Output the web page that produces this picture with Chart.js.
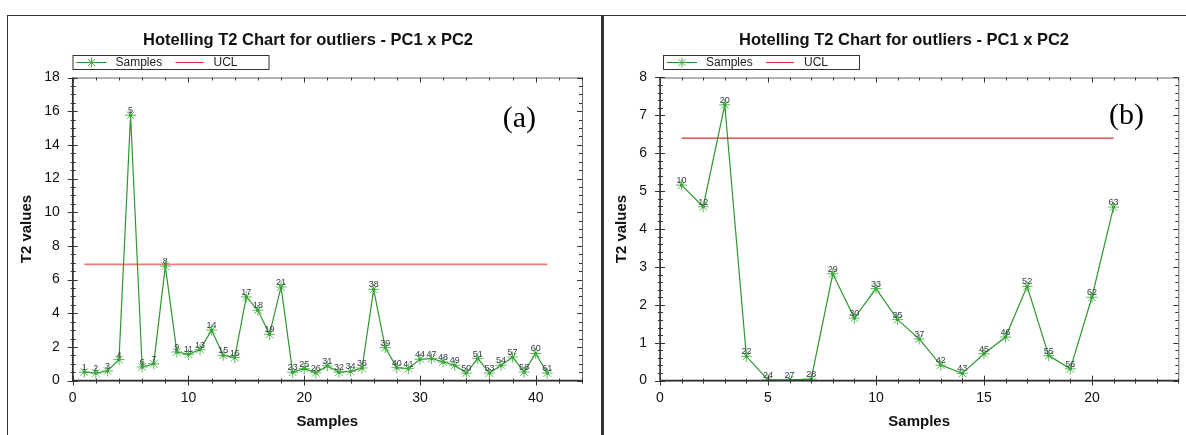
<!DOCTYPE html>
<html>
<head>
<meta charset="utf-8">
<script src="https://cdn.jsdelivr.net/npm/chart.js@4.4.0/dist/chart.umd.min.js"></script>
<style>
html, body { margin: 0; padding: 0; background: #fff; }
body { width: 1186px; height: 435px; position: relative; overflow: hidden; }
#frameTop { position: absolute; left: 7px; top: 15px; width: 1179px; height: 1px; background: #333; }
#frameLeft { position: absolute; left: 7px; top: 15px; width: 1px; height: 420px; background: #333; }
#divider { position: absolute; left: 601px; top: 15px; width: 3px; height: 420px; background: #333; }
canvas { position: absolute; top: 16px; }
#chartA { left: 8px; }
#chartB { left: 604px; }
</style>
</head>
<body>
<div id="frameTop"></div>
<div id="frameLeft"></div>
<div id="divider"></div>
<canvas id="chartA" width="593" height="419"></canvas>
<canvas id="chartB" width="582" height="419"></canvas>
<script>
// (a) sample ids and T2 values
const idsA = [1, 2, 3, 4, 5, 6, 7, 8, 9, 11, 13, 14, 15, 16, 17, 18, 19, 21, 23, 25, 26,
              31, 32, 34, 36, 38, 39, 40, 41, 44, 47, 48, 49, 50, 51, 53, 54, 57, 58, 60, 61];
const t2A = [0.51, 0.45, 0.57, 1.25, 15.76, 0.81, 1.0, 6.8, 1.7, 1.56, 1.84, 3.0, 1.5, 1.37, 4.97, 4.18, 2.75, 5.56, 0.5, 0.71, 0.46,
             0.87, 0.5, 0.55, 0.75, 5.42, 1.96, 0.77, 0.71, 1.27, 1.31, 1.11, 0.91, 0.45, 1.31, 0.45, 0.91, 1.4, 0.51, 1.61, 0.45];
const uclA = 6.9;

// (b)
const idsB = [10, 12, 20, 22, 24, 27, 28, 29, 30, 33, 35, 37, 42, 43, 45, 46, 52, 55, 56, 62, 63];
const t2B = [5.16, 4.59, 7.28, 0.64, 0.02, 0.02, 0.04, 2.82, 1.65, 2.43, 1.61, 1.1, 0.41, 0.19, 0.71, 1.15, 2.49, 0.66, 0.31, 2.2, 4.58];
const uclB = 6.4;

const chartTitle = 'Hotelling T2 Chart for outliers - PC1 x PC2';
const FONT = '"Liberation Sans", Arial, sans-serif';

function drawStar(ctx, x, y, r) {
    const d = r * Math.SQRT1_2;
    ctx.beginPath();
    ctx.moveTo(x - r, y); ctx.lineTo(x + r, y);
    ctx.moveTo(x, y - r); ctx.lineTo(x, y + r);
    ctx.moveTo(x - d, y - d); ctx.lineTo(x + d, y + d);
    ctx.moveTo(x - d, y + d); ctx.lineTo(x + d, y - d);
    ctx.stroke();
}

// frame, tick marks, title, legend, tag
const decor = {
    id: 'decor',
    afterDraw(chart, args, o) {
        const { ctx, chartArea: a, scales: { x, y } } = chart;
        ctx.save();

        ctx.strokeStyle = '#666';
        ctx.lineWidth = 1;
        ctx.strokeRect(a.left + 0.5, a.top + 0.5, a.right - a.left, a.bottom - a.top);
        ctx.strokeStyle = '#333';
        ctx.lineWidth = 1.5;
        ctx.beginPath();
        ctx.moveTo(a.left, a.top);
        ctx.lineTo(a.left, a.bottom);
        ctx.lineTo(a.right, a.bottom);
        ctx.stroke();

        ctx.lineWidth = 1;
        ctx.beginPath();
        const isMajor = (v, step) => Math.abs(v / step - Math.round(v / step)) < 1e-6;
        for (let v = x.min; v <= x.max + 1e-6; v += o.xMinor) {
            const px = Math.round(x.getPixelForValue(v)) + 0.5;
            const m = isMajor(v, o.xMajor);
            ctx.moveTo(px, a.bottom - (m ? 5 : 2));
            ctx.lineTo(px, a.bottom + (m ? 5 : 3));
            ctx.moveTo(px, a.top);
            ctx.lineTo(px, a.top + (m ? 5 : 3));
        }
        for (let v = y.min; v <= y.max + 1e-6; v += o.yMinor) {
            const py = Math.round(y.getPixelForValue(v)) + 0.5;
            const m = isMajor(v, o.yMajor);
            ctx.moveTo(a.left - (m ? 5 : 2), py);
            ctx.lineTo(a.left + (m ? 5 : 3), py);
            ctx.moveTo(a.right, py);
            ctx.lineTo(a.right - (m ? 5 : 3), py);
        }
        ctx.stroke();

        // title
        ctx.fillStyle = '#111';
        ctx.font = 'bold 16.5px ' + FONT;
        ctx.textAlign = 'center';
        ctx.textBaseline = 'middle';
        ctx.fillText(chartTitle, o.titleX, 24);

        // legend box
        const lx = o.legendX, ly = 39;
        ctx.strokeStyle = '#333';
        ctx.strokeRect(lx + 0.5, ly + 0.5, 196, 14);
        const cy = ly + 7.5;
        ctx.strokeStyle = 'rgb(34,139,34)';
        ctx.beginPath();
        ctx.moveTo(lx + 4, cy); ctx.lineTo(lx + 34, cy);
        ctx.stroke();
        ctx.strokeStyle = 'rgba(60,170,60,0.9)';
        drawStar(ctx, lx + 19, cy, 5);
        ctx.strokeStyle = 'rgb(230,40,40)';
        ctx.beginPath();
        ctx.moveTo(lx + 103, cy); ctx.lineTo(lx + 131, cy);
        ctx.stroke();
        ctx.fillStyle = '#222';
        ctx.font = '12px ' + FONT;
        ctx.textAlign = 'left';
        ctx.fillText('Samples', lx + 43, cy);
        ctx.fillText('UCL', lx + 141, cy);

        // panel tag
        ctx.fillStyle = '#000';
        ctx.font = '30px "Liberation Serif", "Times New Roman", serif';
        ctx.fillText(o.tag, o.tagX, o.tagY);

        // sample ids above points
        const meta = chart.getDatasetMeta(0);
        ctx.font = '9px ' + FONT;
        ctx.fillStyle = '#3a3a4a';
        ctx.textAlign = 'center';
        ctx.textBaseline = 'alphabetic';
        meta.data.forEach((pt, i) => ctx.fillText(String(o.ids[i]), pt.x, pt.y - 2));

        ctx.restore();
    }
};

function makeChart(id, ids, vals, ucl, cfg) {
    const pts = ids.map((s, i) => ({ x: i + 1, y: vals[i] }));
    const uclPts = [{ x: 1, y: ucl }, { x: ids.length, y: ucl }];
    return new Chart(document.getElementById(id), {
        type: 'line',
        data: {
            datasets: [{
                label: 'Samples',
                data: pts,
                borderColor: 'rgba(34,145,34,0.95)',
                borderWidth: 1.2,
                pointStyle: 'star',
                pointRadius: 5.5,
                pointBorderWidth: 1,
                pointBorderColor: 'rgba(60,175,60,0.85)',
                pointBackgroundColor: 'rgba(60,175,60,0.85)',
                tension: 0
            }, {
                label: 'dots',
                data: pts,
                showLine: false,
                pointStyle: 'circle',
                pointRadius: 1.6,
                pointBorderWidth: 0,
                pointBackgroundColor: '#0a6e0a'
            }, {
                label: 'UCL',
                data: uclPts,
                borderColor: cfg.uclColor,
                borderWidth: cfg.uclWidth,
                pointRadius: 0
            }]
        },
        options: {
            responsive: false,
            animation: false,
            devicePixelRatio: 1,
            layout: { padding: { top: 61.5, right: cfg.padRight, left: 0, bottom: 0 } },
            plugins: {
                legend: { display: false },
                title: { display: false },
                tooltip: { enabled: false },
                decor: cfg.decor
            },
            scales: {
                x: {
                    type: 'linear',
                    min: 0,
                    max: cfg.xMax,
                    grid: { display: false, drawTicks: false },
                    border: { display: false },
                    ticks: {
                        stepSize: cfg.decor.xMajor,
                        includeBounds: false,
                        padding: 9,
                        color: '#111',
                        font: { family: FONT, size: 14 }
                    },
                    title: {
                        display: true,
                        text: 'Samples',
                        color: '#111',
                        font: { family: FONT, size: 15, weight: 'bold' },
                        padding: { top: 0, bottom: 4 }
                    },
                    afterFit: s => { s.height = 54.4; }
                },
                y: {
                    min: 0,
                    max: cfg.yMax,
                    grid: { display: false, drawTicks: false },
                    border: { display: false },
                    ticks: {
                        stepSize: cfg.decor.yMajor,
                        padding: 13,
                        color: '#111',
                        font: { family: FONT, size: 14 }
                    },
                    title: {
                        display: true,
                        text: 'T2 values',
                        color: '#111',
                        font: { family: FONT, size: 15, weight: 'bold' },
                        padding: { top: cfg.yTitlePad, bottom: 0 }
                    },
                    afterFit: s => { s.width = cfg.yWidth; }
                }
            }
        },
        plugins: [decor]
    });
}

makeChart('chartA', idsA, t2A, uclA, {
    xMax: 44, yMax: 18, yWidth: 64.7, padRight: 19, yTitlePad: 10,
    uclColor: 'rgba(240,100,100,0.85)', uclWidth: 1.8,
    decor: { xMinor: 2, xMajor: 10, yMinor: 0.5, yMajor: 2, titleX: 300, legendX: 64.5,
             tag: '(a)', tagX: 494.7, tagY: 103, ids: idsA }
});

makeChart('chartB', idsB, t2B, uclB, {
    xMax: 24, yMax: 8, yWidth: 56, padRight: 7.7, yTitlePad: 9,
    uclColor: 'rgb(235,40,40)', uclWidth: 1.2,
    decor: { xMinor: 1, xMajor: 5, yMinor: 0.2, yMajor: 1, titleX: 300, legendX: 59,
             tag: '(b)', tagX: 505, tagY: 100.5, ids: idsB }
});
</script>
</body>
</html>
